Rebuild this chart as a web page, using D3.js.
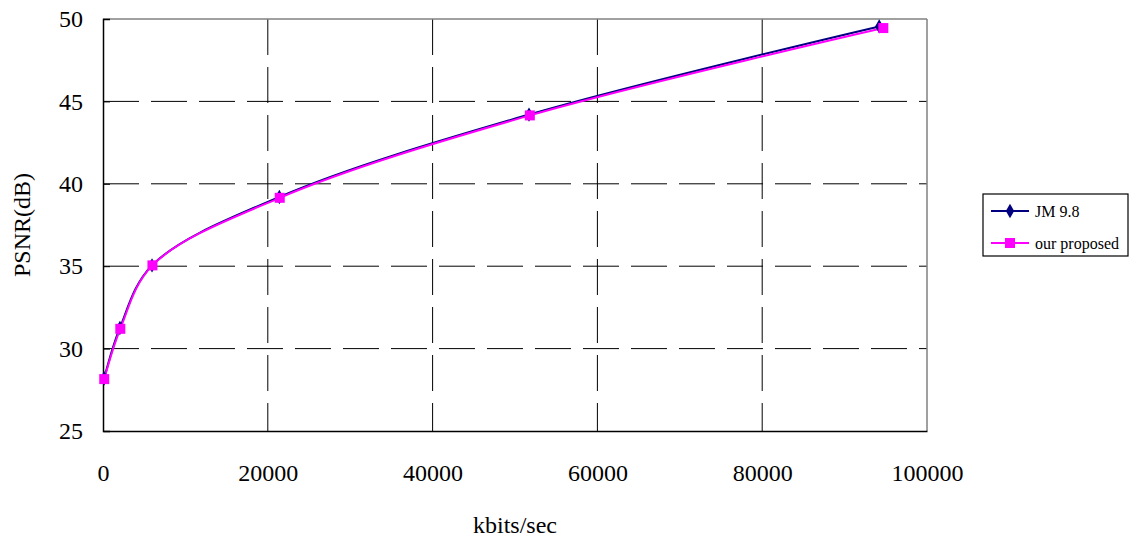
<!DOCTYPE html>
<html><head><meta charset="utf-8">
<script src="https://cdn.jsdelivr.net/npm/d3@7"></script>
<style>body{margin:0;background:#fff}svg{display:block}text{font-family:"Liberation Serif","DejaVu Serif",serif}</style>
</head><body>
<script>
const bitrateJM = [150, 2050, 5950, 21400, 51700, 94200];
const psnrJM = [28.2, 31.25, 35.05, 39.2, 44.2, 49.55];
const bitrateOurs = [150, 2100, 6000, 21450, 51800, 94700];
const psnrOurs = [28.15, 31.2, 35.05, 39.15, 44.15, 49.45];
const xTicks = [0, 20000, 40000, 60000, 80000, 100000];
const yTicks = [25, 30, 35, 40, 45, 50];
const seriesNames = ["JM 9.8", "our proposed"];

const W = 1134, H = 546;
const svg = d3.select("body").append("svg").attr("width", W).attr("height", H);
const x = d3.scaleLinear().domain([0, 100000]).range([103, 927]);
const y = d3.scaleLinear().domain([25, 50]).range([431, 19]);

// grid
svg.append("g").selectAll("line").data(xTicks.slice(1, -1)).join("line")
  .attr("x1", d => x(d)).attr("x2", d => x(d)).attr("y1", y(50)).attr("y2", y(25))
  .attr("stroke", "#000").attr("stroke-width", 1).attr("stroke-dasharray", "36,12");
svg.append("g").selectAll("line").data(yTicks.slice(1, -1)).join("line")
  .attr("x1", x(0)).attr("x2", x(100000)).attr("y1", d => y(d)).attr("y2", d => y(d))
  .attr("stroke", "#000").attr("stroke-width", 1).attr("stroke-dasharray", "36,12");
// border top/right gray
svg.append("line").attr("x1", x(0)).attr("x2", x(100000)).attr("y1", y(50)).attr("y2", y(50)).attr("stroke", "#808080").attr("stroke-width", 1.5);
svg.append("line").attr("x1", x(100000)).attr("x2", x(100000)).attr("y1", y(50)).attr("y2", y(25)).attr("stroke", "#808080").attr("stroke-width", 1.5);

// axes
const xAxis = svg.append("g").attr("transform", `translate(0,${y(25)})`)
  .call(d3.axisBottom(x).tickValues(xTicks).tickSize(0).tickPadding(33).tickFormat(d3.format("d")));
const yAxis = svg.append("g").attr("transform", `translate(${x(0)},0)`)
  .call(d3.axisLeft(y).tickValues(yTicks).tickSize(-7).tickPadding(20).tickFormat(d3.format("d")));
[xAxis, yAxis].forEach(g => {
  g.attr("font-family", null);
  g.select(".domain").attr("stroke", "#000").attr("stroke-width", 1.5);
  g.selectAll("text").attr("font-size", 24).attr("fill", "#000");
});
yAxis.selectAll(".tick line").attr("stroke", "#000");

// axis titles
svg.append("text").attr("x", 515).attr("y", 533).attr("text-anchor", "middle")
  .attr("font-size", 24).text("kbits/sec");
svg.append("text").attr("transform", "translate(30,225) rotate(-90)").attr("text-anchor", "middle")
  .attr("font-size", 24).text("PSNR(dB)");

const line = d3.line().curve(d3.curveCatmullRom.alpha(0.5)).x(d => x(d[0])).y(d => y(d[1]));
const jm = bitrateJM.map((b, i) => [b, psnrJM[i]]);
const ours = bitrateOurs.map((b, i) => [b, psnrOurs[i]]);
svg.append("path").datum(jm).attr("d", line).attr("fill", "none").attr("stroke", "#000080").attr("stroke-width", 2);
svg.append("path").datum(ours).attr("d", line).attr("fill", "none").attr("stroke", "#FF00FF").attr("stroke-width", 2);
const diamond = d3.symbol().type(d3.symbolDiamond).size(60);
svg.append("g").selectAll("path").data(jm).join("path")
  .attr("transform", d => `translate(${x(d[0])},${y(d[1])})`).attr("d", diamond).attr("fill", "#000080");
svg.append("g").selectAll("rect").data(ours).join("rect")
  .attr("x", d => x(d[0]) - 5).attr("y", d => y(d[1]) - 5).attr("width", 10).attr("height", 10).attr("fill", "#FF00FF");

// legend
const lg = svg.append("g");
lg.append("rect").attr("x", 983).attr("y", 194).attr("width", 145).attr("height", 62)
  .attr("fill", "#fff").attr("stroke", "#000").attr("stroke-width", 1.2);
const colors = ["#000080", "#FF00FF"];
seriesNames.forEach((n, i) => {
  const cy = 211 + i * 32;
  lg.append("line").attr("x1", 991).attr("x2", 1029).attr("y1", cy).attr("y2", cy).attr("stroke", colors[i]).attr("stroke-width", 2);
  if (i === 0) lg.append("path").attr("transform", `translate(1010,${cy})`).attr("d", diamond).attr("fill", colors[i]);
  else lg.append("rect").attr("x", 1005).attr("y", cy - 5).attr("width", 10).attr("height", 10).attr("fill", colors[i]);
  lg.append("text").attr("x", 1035).attr("y", cy + 6).attr("font-size", 16).text(n);
});
</script>
</body></html>
